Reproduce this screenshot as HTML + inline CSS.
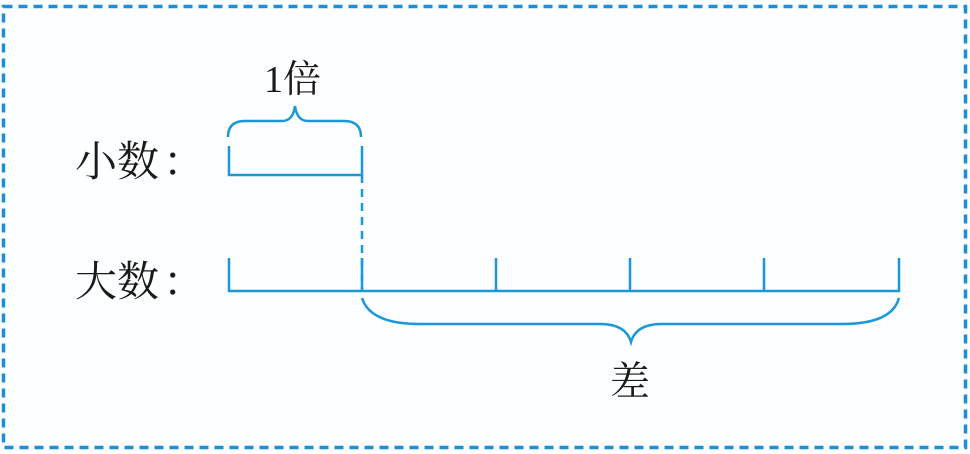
<!DOCTYPE html>
<html><head><meta charset="utf-8"><style>
html,body{margin:0;padding:0;background:#fff;}
svg{display:block;}
text{font-family:"Liberation Serif","Noto Serif CJK SC",serif;fill:#1a1a1a;}
</style></head><body>
<svg width="970" height="454" viewBox="0 0 970 454" xmlns="http://www.w3.org/2000/svg">
<rect x="0" y="0" width="970" height="454" fill="#fdfeff"/>
<rect x="3.5" y="6.5" width="962" height="441" fill="none" stroke="#1c8fd8" stroke-width="3.5" stroke-dasharray="9,6"/>
<g fill="none" stroke="#1a98d8" stroke-width="2.5">
<path d="M229 146 V175 H362 V146"/>
<path d="M228 137 Q228 121 245 121 H282 Q293 121 295 106 Q297 121 308 121 H344 Q361 121 361 137"/>
<path d="M362 175 V291" stroke-dasharray="8,6"/>
<path d="M229 258 V291 H899 V258"/>
<path d="M362 258 V291 M496 258 V291 M630 258 V291 M764 258 V291"/>
<path d="M362 298 Q370 324 420 324 H600 Q626 324 631 342 Q636 324 662 324 H842 Q892 324 899 298"/>
</g>
<text x="75" y="176" font-size="42">小数</text>
<text x="163" y="176" font-size="42">：</text>
<text x="75" y="296" font-size="42">大数</text>
<text x="163" y="296" font-size="42">：</text>
<text x="264" y="92" font-size="38">1倍</text>
<text x="630" y="395" font-size="40" text-anchor="middle">差</text>
</svg>
</body></html>
